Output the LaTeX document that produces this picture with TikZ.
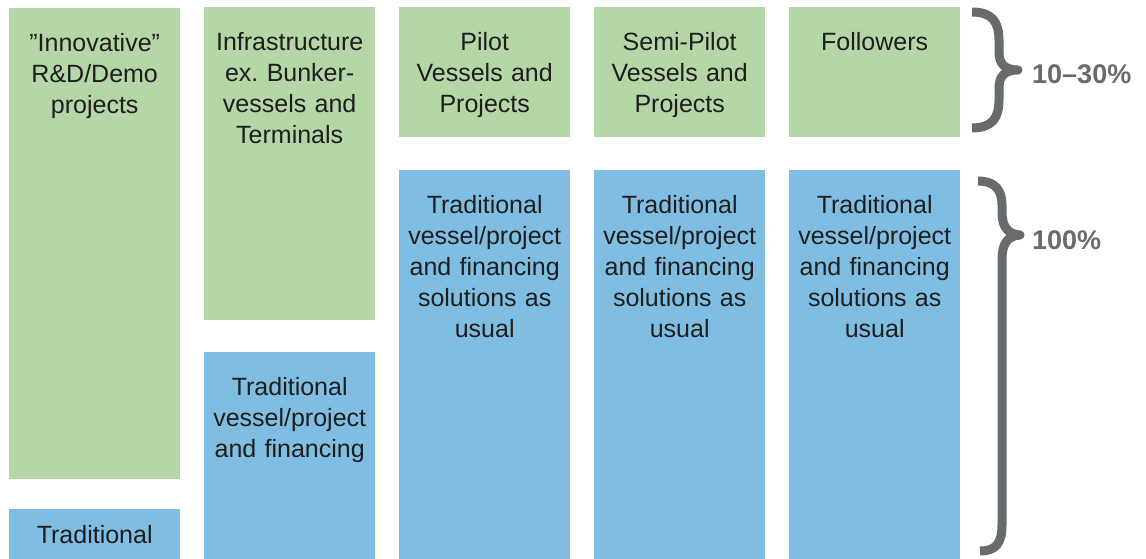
\documentclass[tikz,border=0pt]{standalone}
\usepackage{fontspec}
\setmainfont{Liberation Sans}
\usetikzlibrary{positioning}
\definecolor{boxgreen}{HTML}{B5D6A7}
\definecolor{boxblue}{HTML}{7FBEE2}
\definecolor{bracegray}{HTML}{676B6D}
\definecolor{textdark}{HTML}{1E1E1E}

\begin{document}
\begin{tikzpicture}[
    x=1pt, y=-1pt,
    green box/.style={rectangle, fill=boxgreen, anchor=north west, inner sep=0pt, minimum width=171pt},
    blue box/.style={rectangle, fill=boxblue, anchor=north west, inner sep=0pt, minimum width=171pt},
    box text/.style={inner sep=0pt, text width=168pt, align=center, text=textdark, font=\fontsize{25}{31}\selectfont},
    brace style/.style={line width=9pt, line join=round, bracegray},
    pct style/.style={anchor=west, inner sep=0pt, text=bracegray, font=\fontsize{27}{30}\selectfont\bfseries}
]
\useasboundingbox (0,0) rectangle (1146,559);

% First column
\node[green box, minimum height=471pt] (innov) at (9,8) {};
\node[box text, below=25pt of innov.north] (innovtext) {”Innovative”\\R\&D/Demo\\projects};
\node[blue box, minimum height=50pt] (tradfirst) at (9,509) {};
\node[box text] (tradfirsttext) at (tradfirst.center) {Traditional};

% Second column
\node[green box, minimum height=313pt] (infra) at (204,7) {};
\node[box text, below=25pt of infra.north] (infratext) {Infrastructure\\ex.\ Bunker-\\vessels and\\Terminals};
\node[blue box, minimum height=207pt] (tradinfra) at (204,352) {};
\node[box text, below=25pt of tradinfra.north] (tradinfratext) {Traditional\\vessel/project\\and financing};

% Columns with the usual solutions
\foreach \x/\name/\head in {399/pilot/{Pilot\\Vessels and\\Projects}, 594/semi/{Semi-Pilot\\Vessels and\\Projects}, 789/follow/{Followers}} {
    \node[green box, minimum height=130pt] (\name) at (\x,7) {};
    \node[box text, below=25pt of \name.north] (\name text) {\head};
    \node[blue box, minimum height=389pt] (trad\name) at (\x,170) {};
    \node[box text, below=25pt of trad\name.north] (trad\name text) {Traditional\\vessel/project\\and financing\\solutions as\\usual};
}

% Draw the braces
\draw[brace style] (972,12) .. controls (992,12) and (999,22) .. (999,40) -- (999,52)
    .. controls (999,64) and (1005,70) .. (1018,70)
    .. controls (1005,70) and (999,76) .. (999,88) -- (999,100)
    .. controls (999,118) and (992,128) .. (972,128);
\draw[brace style] (978,181) .. controls (995,181) and (1002,190) .. (1002,205) -- (1002,212)
    .. controls (1002,226) and (1007,234) .. (1020,235)
    .. controls (1007,236) and (1002,244) .. (1002,260) -- (1002,525)
    .. controls (1002,543) and (996,551) .. (980,551);

% Share labels
\node[pct style] (share) at (1032,74) {10–30\%};
\node[pct style] (full) at (1032,240) {100\%};
\end{tikzpicture}
\end{document}
